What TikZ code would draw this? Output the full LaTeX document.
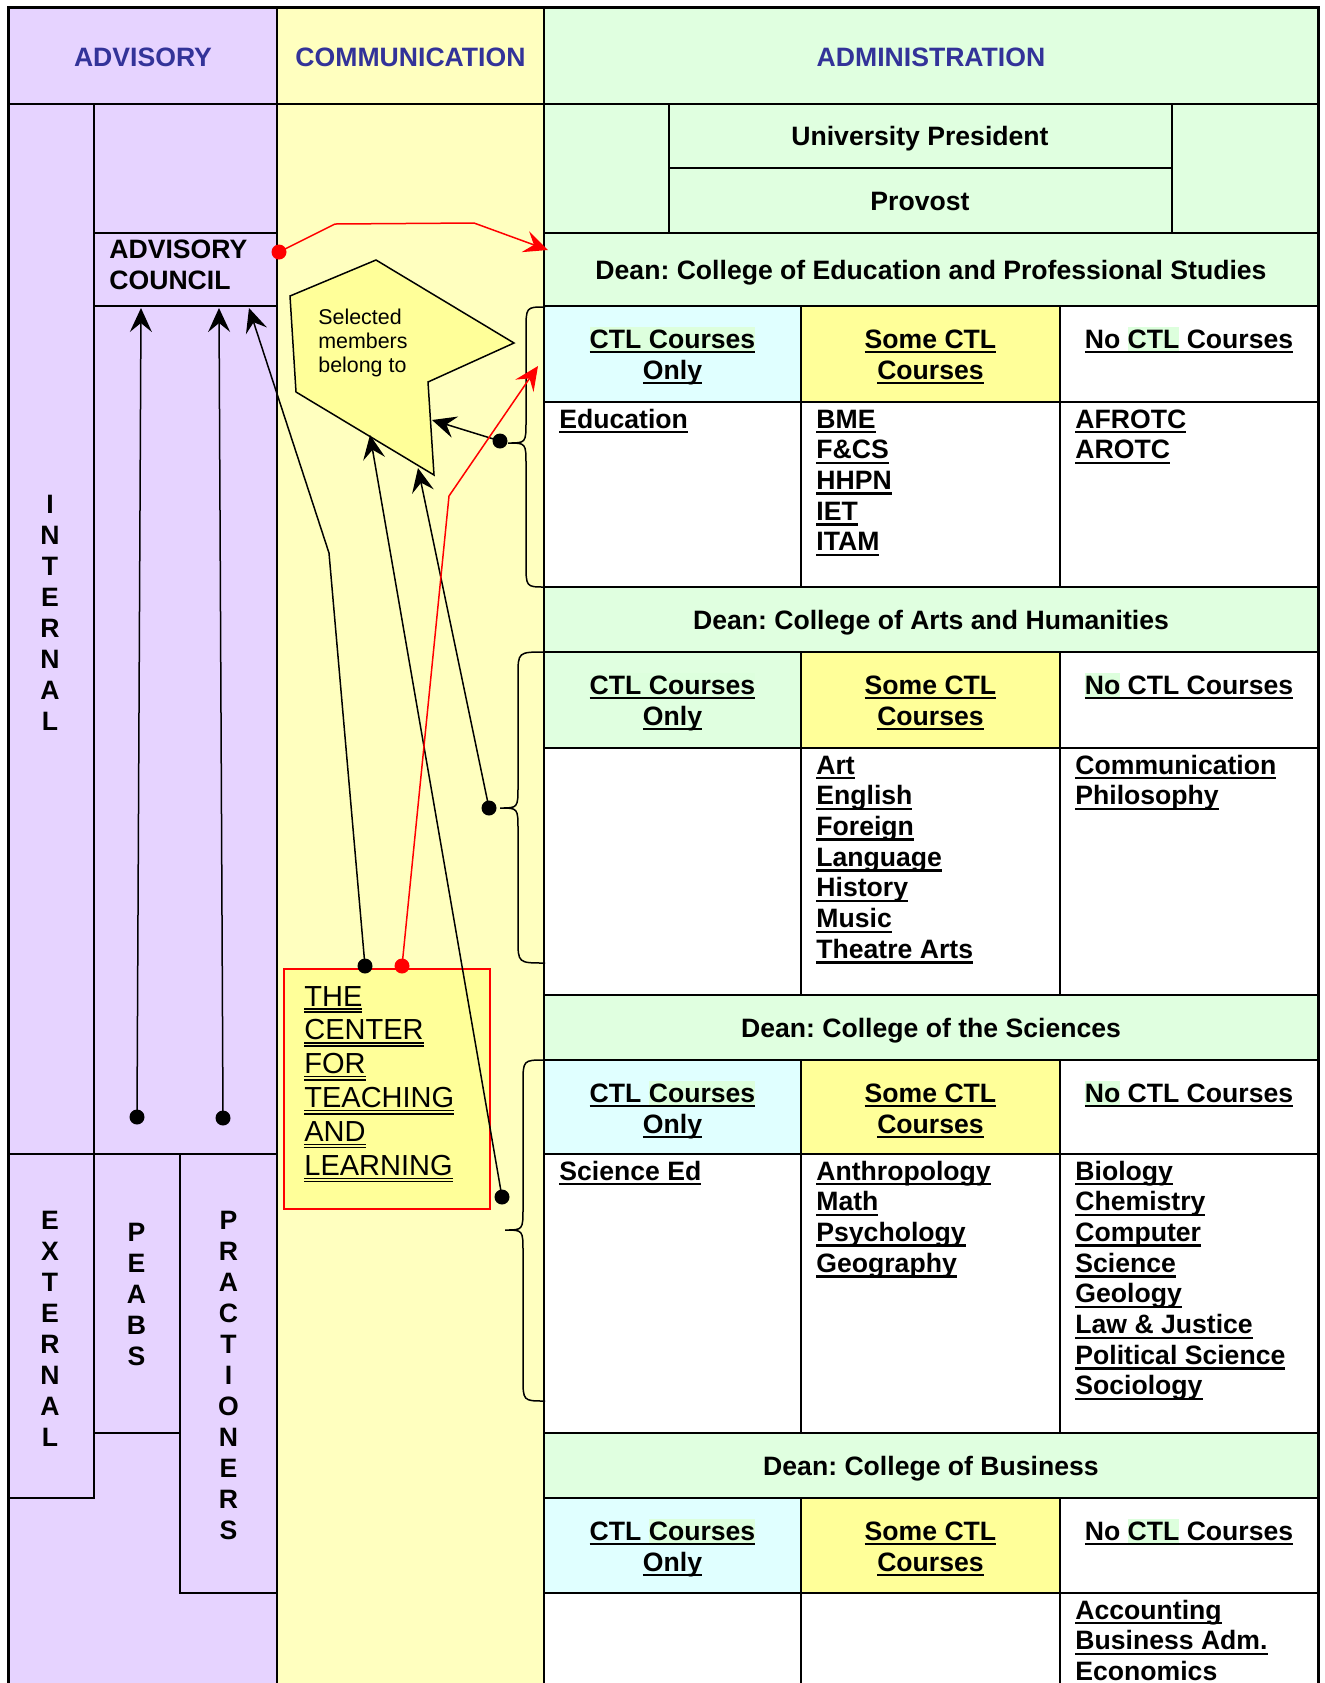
\documentclass[tikz,border=0pt]{standalone}
\usepackage{fontspec}
\setmainfont{Liberation Sans}
\usetikzlibrary{arrows.meta,calc}
\frenchspacing

\definecolor{lilac}{HTML}{E6D3FF}
\definecolor{commyel}{HTML}{FFFFBF}
\definecolor{admgreen}{HTML}{E0FFE0}
\definecolor{ctlcyan}{HTML}{E0FFFF}
\definecolor{someyel}{HTML}{FFFF99}
\definecolor{headblue}{HTML}{333399}
\definecolor{hlgreen}{HTML}{DDFFDD}

\newcommand{\uln}[1]{\setbox0\hbox{#1}\copy0\llap{\rule[-2.7pt]{\wd0}{1.2pt}}}
\newcommand{\uuln}[1]{\setbox0\hbox{#1}\copy0\llap{\rule[-1.8pt]{\wd0}{0.7pt}}\llap{\rule[-3.4pt]{\wd0}{0.7pt}}}
\newcommand{\hlg}[1]{{\setlength{\fboxsep}{0pt}\colorbox{hlgreen}{\rule[-1.5pt]{0pt}{12pt}#1}}}
\newcommand{\ctlA}{\uln{\hlg{CTL Courses}}}
\newcommand{\ctlB}{\uln{CTL \hlg{Courses}}}
\newcommand{\noA}{\uln{No \hlg{CTL} Courses}}
\newcommand{\noB}{\uln{\hlg{No} CTL Courses}}

\begin{document}
\begin{tikzpicture}[x=0.5pt,y=-0.5pt,
    gridline/.style={line width=0.9pt},
    txt/.style={font=\fontsize{13.3}{15.5}\selectfont\bfseries, inner sep=0pt},
    colhead/.style={txt, text=headblue},
    listitem/.style={txt, anchor=base west},
    smalltxt/.style={font=\fontsize{10.7}{12.3}\selectfont, inner sep=0pt, anchor=base west},
    centertxt/.style={font=\fontsize{14.5}{17}\selectfont, inner sep=0pt, anchor=base west},
    blackdot/.style={circle, fill=black, inner sep=0pt, minimum size=7.5pt},
    reddot/.style={blackdot, fill=red},
    arr/.style={line width=0.75pt, -{Stealth[length=12pt,width=11pt,inset=4.5pt]}}]
    \useasboundingbox (0,0) rectangle (1324,1683);
    \clip (0,0) rectangle (1324,1683);
    \fill[lilac] (8.6,7.5) rectangle (277,1700);
    \fill[commyel] (277,7.5) rectangle (544,1700);
    \fill[admgreen] (544,7.5) rectangle (1318,1700);
    \foreach \dtop/\htop/\hbot/\bbot/\cfill/\ctltxt/\notxt/\deantxt in {
        233/306/402/587/ctlcyan/\ctlA/\noA/{Dean: College of Education and Professional Studies},
        587/652/748/995/admgreen/\ctlA/\noB/{Dean: College of Arts and Humanities},
        995/1060/1154/1433/ctlcyan/\ctlB/\noB/{Dean: College of the Sciences},
        1433/1498/1593/1700/ctlcyan/\ctlB/\noA/{Dean: College of Business}}{
        \fill[\cfill] (544,\htop) rectangle (801,\hbot);
        \fill[someyel] (801,\htop) rectangle (1060,\hbot);
        \fill[white] (1060,\htop) rectangle (1318,\hbot) (544,\hbot) rectangle (1318,\bbot);
        \draw[gridline] (544,\dtop) -- (1318,\dtop) (544,\htop) -- (1318,\htop) (544,\hbot) -- (1318,\hbot) (544,\bbot) -- (1318,\bbot);
        \draw[gridline] (801,\htop) -- (801,\bbot) (1060,\htop) -- (1060,\bbot);
        \node[txt, anchor=base] (dean-\dtop) at (931,\dtop/2+\htop/2+9.5) {\deantxt};
        \node[txt, anchor=base] (ctl-\dtop) at (672.5,\htop+42) {\ctltxt};
        \node[txt, anchor=base] (only-\dtop) at (672.5,\htop+73) {\uln{Only}};
        \node[txt, anchor=base] (some-\dtop) at (930.5,\htop+42) {\uln{Some CTL}};
        \node[txt, anchor=base] (courses-\dtop) at (930.5,\htop+73) {\uln{Courses}};
        \node[txt, anchor=base] (no-\dtop) at (1189,\htop+42) {\notxt};
    }
    \foreach \lx/\ly/\items in {
        559/428/{Education},
        816/428/{BME,F\&CS,HHPN,IET,ITAM},
        1075/428/{AFROTC,AROTC},
        816/774/{Art,English,Foreign,Language,History,Music,Theatre Arts},
        1075/774/{Communication,Philosophy},
        559/1180/{Science Ed},
        816/1180/{Anthropology,Math,Psychology,Geography},
        1075/1180/{Biology,Chemistry,Computer,Science,Geology,Law \& Justice,Political Science,Sociology},
        1075/1619/{Accounting,Business Adm.,Economics}}{
        \foreach \t [count=\i from 0] in \items
            \node[listitem] (it-\lx-\ly-\i) at (\lx,\ly+30.7*\i) {\uln{\t}};
    }
    \draw[gridline] (8.6,104) -- (1318,104);
    \draw[gridline] (277,7.5) -- (277,1700) (544,7.5) -- (544,1700);
    \draw[gridline] (669,104) -- (669,233) (1172,104) -- (1172,233) (669,168) -- (1172,168);
    \draw[gridline] (94,104) -- (94,1498) -- (8.6,1498);
    \draw[gridline] (94,233) -- (277,233) (94,306) -- (277,306);
    \draw[gridline] (8.6,1154) -- (277,1154);
    \draw[gridline] (94,1433) -- (180,1433) (180,1154) -- (180,1593) -- (277,1593);
    \draw[line width=1.5pt] (8.6,1700) -- (8.6,7.5) -- (1318,7.5) -- (1318,1700);
    \node[colhead] (adv) at (143,57) {ADVISORY};
    \node[colhead] (comm) at (410.5,57) {COMMUNICATION};
    \node[colhead] (admin) at (931,57) {ADMINISTRATION};
    \node[txt, anchor=base] (pres) at (920,145.5) {University President};
    \node[txt, anchor=base] (prov) at (920,210.5) {Provost};
    \node[listitem] (council-a) at (109,258.5) {ADVISORY};
    \node[listitem] (council-b) at (109,289.5) {COUNCIL};
    \foreach \vx/\vy/\letters in {50/504/{I,N,T,E,R,N,A,L}, 50/1220/{E,X,T,E,R,N,A,L},
        136.5/1232/{P,E,A,B,S}, 228.5/1220/{P,R,A,C,T,I,O,N,E,R,S}}{
        \foreach \l [count=\i from 0] in \letters
            \node[txt] (v-\vx-\vy-\i) at (\vx,\vy+31*\i) {\l};
    }
    \draw[line width=0.75pt, fill=someyel] (290,296) -- (376,260) -- (514,343) -- (428,382) -- (434,475) -- (296,392) -- cycle;
    \foreach \t [count=\i from 0] in {Selected,members,belong to}
        \node[smalltxt] (sel-\i) at (318,324.5+24*\i) {\t};
    \draw[red, line width=1pt, fill=someyel] (284,969) rectangle (490,1209);
    \foreach \t [count=\i from 0] in {THE,CENTER,FOR,TEACHING,AND,LEARNING}
        \node[centertxt] (center-\i) at (304,1006+33.9*\i) {\uuln{\t}};
    \foreach \btop/\bx/\bmid/\bbot in {307/526/443/587, 652/518/808/963, 1060/523/1230/1401}
        \draw[line width=0.75pt] (545,\btop) .. controls (\bx,\btop) .. (\bx,\btop+24) -- (\bx,\bmid-22)
            .. controls (\bx,\bmid) .. (\bx-18,\bmid) .. controls (\bx,\bmid) .. (\bx,\bmid+22)
            -- (\bx,\bbot-24) .. controls (\bx,\bbot) .. (545,\bbot);
    \coordinate (dA) at (137,1117);
    \coordinate (dB) at (223,1118);
    \coordinate (dC) at (365,966);
    \coordinate (dD) at (502,1197);
    \coordinate (dE) at (489,808);
    \coordinate (dF) at (500,441);
    \coordinate (rA) at (279,252);
    \coordinate (rB) at (402,966);
    \coordinate (tA) at (141,308);
    \coordinate (tB) at (219,308);
    \coordinate (bC) at (329,553);
    \coordinate (tC) at (249,308);
    \coordinate (tD) at (370,435);
    \coordinate (tE) at (418,468);
    \coordinate (tF) at (432,420);
    \coordinate (bR1) at (335,224);
    \coordinate (bR2) at (474,223);
    \coordinate (tR1) at (548,250);
    \coordinate (bR3) at (449,496);
    \coordinate (tR2) at (538,366);
    \draw[arr] (dA) -- (tA);
    \draw[arr] (dB) -- (tB);
    \draw[arr] (dC) -- (bC) -- (tC);
    \draw[arr] (dD) -- (tD);
    \draw[arr] (dE) -- (tE);
    \draw[arr] (dF) -- (tF);
    \draw[arr, red] (rA) -- (bR1) -- (bR2) -- (tR1);
    \draw[arr, red] (rB) -- (bR3) -- (tR2);
    \foreach \d in {dA,dB,dC,dD,dE,dF}
        \node[blackdot] (dot-\d) at (\d) {};
    \foreach \d in {rA,rB}
        \node[reddot] (dot-\d) at (\d) {};
\end{tikzpicture}
\end{document}
